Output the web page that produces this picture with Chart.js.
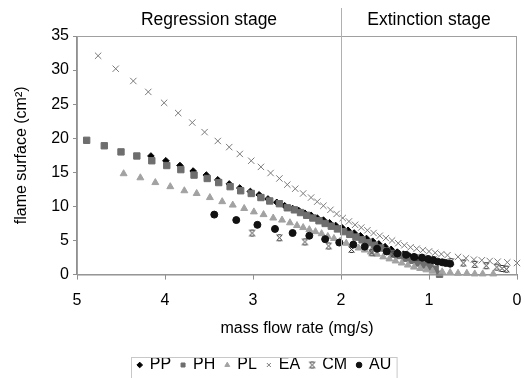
<!DOCTYPE html>
<html>
<head>
<meta charset="utf-8">
<script src="https://cdn.jsdelivr.net/npm/chart.js@4/dist/chart.umd.min.js"></script>
<style>
  html, body { margin: 0; padding: 0; background: #fff; }
  #wrap { width: 525px; height: 378px; }
</style>
</head>
<body>
<div id="wrap"><canvas id="chart_flame"></canvas></div>
<script>
// values (mass flow rate mg/s, flame surface cm2)
const ppX = [4.16, 3.99, 3.83, 3.68, 3.53, 3.40, 3.27, 3.15, 3.03, 2.93, 2.83, 2.73, 2.64, 2.55, 2.48,
    2.41, 2.34, 2.27, 2.20, 2.13, 2.06, 1.99, 1.92, 1.85, 1.78, 1.71, 1.64, 1.57, 1.50, 1.43, 1.36,
    1.29, 1.22, 1.15, 1.08, 1.01];
const ppY = [17.4, 16.7, 16.0, 15.2, 14.6, 13.9, 13.3, 12.7, 12.2, 11.7, 11.1, 10.6, 10.1, 9.7, 9.4,
    9.0, 8.7, 8.3, 8.0, 7.6, 7.2, 6.9, 6.5, 6.1, 5.7, 5.3, 4.9, 4.5, 4.1, 3.7, 3.3,
    3.0, 2.7, 2.4, 2.1, 1.7];

const phX = [4.89, 4.69, 4.50, 4.32, 4.15, 3.98, 3.82, 3.67, 3.52, 3.39, 3.26, 3.14, 3.02, 2.91, 2.81,
    2.70, 2.61, 2.53, 2.46, 2.39, 2.32, 2.25, 2.18, 2.11, 2.04, 1.97, 1.90, 1.83, 1.76, 1.69, 1.62,
    1.55, 1.48, 1.41, 1.34, 1.27, 1.20, 1.13, 1.06, 0.99, 0.93, 0.88];
const phY = [19.7, 18.9, 18.0, 17.4, 16.7, 16.0, 15.4, 14.6, 14.1, 13.5, 12.9, 12.3, 11.9, 11.3, 10.8,
    10.4, 9.8, 9.5, 9.1, 8.7, 8.3, 7.9, 7.5, 7.1, 6.7, 6.3, 5.9, 5.5, 5.1, 4.7, 4.3,
    3.9, 3.5, 3.1, 2.8, 2.4, 2.1, 1.7, 1.4, 1.1, 0.8, 0.05];

const plX = [4.47, 4.28, 4.11, 3.94, 3.78, 3.64, 3.49, 3.35, 3.23, 3.10, 2.99, 2.88, 2.77, 2.67, 2.58,
    2.50, 2.43, 2.36, 2.29, 2.22, 2.15, 2.08, 2.01, 1.94, 1.87, 1.80, 1.73, 1.66, 1.59, 1.52, 1.45,
    1.38, 1.31, 1.24, 1.17, 1.10, 1.03, 0.96, 0.85, 0.76, 0.67, 0.57, 0.48, 0.39, 0.27];
const plY = [14.8, 14.2, 13.5, 12.9, 12.3, 11.9, 11.3, 10.7, 10.2, 9.7, 9.2, 8.8, 8.3, 8.0, 7.6,
    7.2, 6.9, 6.6, 6.3, 6.0, 5.6, 5.3, 4.9, 4.6, 4.3, 3.9, 3.6, 3.3, 3.0, 2.6, 2.3,
    2.0, 1.7, 1.4, 1.1, 0.9, 0.7, 0.5, 0.4, 0.3, 0.2, 0.2, 0.1, 0.1, 0.1];

const eaX = [4.76, 4.56, 4.36, 4.19, 4.01, 3.85, 3.69, 3.55, 3.40, 3.27, 3.15, 3.02, 2.91, 2.80, 2.70,
    2.61, 2.52, 2.43, 2.34, 2.27, 2.20, 2.12, 2.05, 1.98, 1.91, 1.84, 1.77, 1.70, 1.63, 1.56, 1.49,
    1.42, 1.35, 1.28, 1.21, 1.14, 1.07, 1.00, 0.93, 0.86, 0.79, 0.67, 0.58, 0.49, 0.40, 0.31, 0.22,
    0.11, 0.0];
const eaY = [32.1, 30.2, 28.4, 26.8, 25.2, 23.7, 22.3, 20.9, 19.6, 18.7, 17.7, 16.7, 15.8, 14.9, 14.1,
    13.2, 12.6, 11.9, 11.3, 10.7, 10.1, 9.5, 8.9, 8.3, 7.8, 7.3, 6.9, 6.5, 6.1, 5.7, 5.35,
    5.0, 4.6, 4.3, 4.0, 3.8, 3.6, 3.4, 3.2, 3.0, 2.85, 2.6, 2.4, 2.2, 2.1, 2.0, 1.9,
    1.8, 1.7];

const cmX = [3.01, 2.70, 2.41, 2.14, 1.88, 1.65, 1.40, 1.15, 0.95, 0.75, 0.61, 0.48, 0.35, 0.23, 0.17, 0.12];
const cmY = [6.1, 5.4, 4.8, 4.2, 3.7, 3.2, 3.0, 2.5, 2.2, 1.9, 1.7, 1.5, 1.3, 1.1, 0.9, 0.8];

const auX = [3.44, 3.19, 2.95, 2.75, 2.55, 2.36, 2.18, 2.02, 1.86, 1.73, 1.59, 1.48, 1.36, 1.26, 1.17,
    1.08, 1.01, 0.95, 0.90, 0.85, 0.81, 0.76];
const auY = [8.8, 8.0, 7.3, 6.7, 6.1, 5.7, 5.2, 4.7, 4.4, 4.1, 3.8, 3.4, 3.1, 2.9, 2.6,
    2.5, 2.3, 2.1, 1.9, 1.8, 1.7, 1.6];

const xTicks = [5, 4, 3, 2, 1, 0];
const yTicks = [0, 5, 10, 15, 20, 25, 30, 35];
const stageSplit = 2;
const stageLabels = ['Regression stage', 'Extinction stage'];

const pts = (xs, ys) => xs.map((x, i) => ({ x: x, y: ys[i] }));

// excel style "star" marker: an x closed with short bars top and bottom
const makeStar = (size) => {
    const c = document.createElement('canvas');
    c.width = size; c.height = size;
    const g = c.getContext('2d');
    const a = 1.5, b = size - 1.5;
    g.strokeStyle = '#333';
    g.lineWidth = 1;
    g.beginPath();
    g.moveTo(a, a); g.lineTo(b, b);
    g.moveTo(b, a); g.lineTo(a, b);
    g.moveTo(a + 1, a); g.lineTo(b - 1, a);
    g.moveTo(a + 1, b); g.lineTo(b - 1, b);
    g.stroke();
    return c;
};
const starMark = makeStar(9);

const font = 'Liberation Sans, Arial, sans-serif';
const legendShift = 5;

const stagePlugin = {
    id: 'stages',
    afterLayout(chart) {
        // push the legend a bit lower, like the original
        chart.legend.top += legendShift;
        chart.legend.bottom += legendShift;
    },
    afterDatasetsDraw(chart) {
        const { ctx, chartArea, scales } = chart;
        const xs = scales.x.getPixelForValue(stageSplit);
        ctx.save();
        // plot frame
        ctx.strokeStyle = '#a0a0a0';
        ctx.lineWidth = 1;
        ctx.strokeRect(chartArea.left + 0.5, chartArea.top + 0.5,
            chartArea.right - chartArea.left - 1, chartArea.bottom - chartArea.top);
        // short x tick marks (the axis ones are hidden, they only make room)
        ctx.strokeStyle = '#909090';
        ctx.beginPath();
        xTicks.forEach(v => {
            const px = Math.round(scales.x.getPixelForValue(v)) + 0.5;
            ctx.moveTo(px, chartArea.bottom);
            ctx.lineTo(px, chartArea.bottom + 5);
        });
        ctx.stroke();
        // divider
        ctx.strokeStyle = '#b0b0b0';
        ctx.beginPath();
        ctx.moveTo(Math.round(xs) + 0.5, 8);
        ctx.lineTo(Math.round(xs) + 0.5, chartArea.bottom);
        ctx.stroke();
        ctx.fillStyle = '#000';
        ctx.font = '17.5px ' + font;
        ctx.textAlign = 'center';
        ctx.textBaseline = 'middle';
        ctx.fillText(stageLabels[0], scales.x.getPixelForValue((5 + stageSplit) / 2), 20);
        ctx.fillText(stageLabels[1], scales.x.getPixelForValue(stageSplit / 2), 20);
        ctx.restore();
    },
    afterDraw(chart) {
        const boxes = chart.legend.legendHitBoxes;
        if (!boxes || !boxes.length) return;
        const l = Math.min(...boxes.map(b => b.left));
        const r = Math.max(...boxes.map(b => b.left + b.width));
        const t = Math.min(...boxes.map(b => b.top)) + legendShift;
        const b2 = Math.max(...boxes.map(b => b.top + b.height)) + legendShift;
        const ctx = chart.ctx;
        ctx.save();
        ctx.strokeStyle = '#c8c8c8';
        ctx.lineWidth = 1;
        ctx.strokeRect(Math.round(l) - 6.5, Math.round(t) - 4.5, r - l + 12, b2 - t + 9);
        ctx.restore();
    }
};

// order: later series drawn on top, like the spreadsheet did
const data = {
    datasets: [
        { label: 'PP', data: pts(ppX, ppY), pointStyle: 'rectRot', radius: 3.3, order: 6,
          backgroundColor: '#000', borderColor: '#000', borderWidth: 1 },
        { label: 'PH', data: pts(phX, phY), pointStyle: 'rect', radius: 4.5, order: 5,
          backgroundColor: '#6e6e6e', borderColor: '#6e6e6e', borderWidth: 1 },
        { label: 'PL', data: pts(plX, plY), pointStyle: 'triangle', radius: 4, order: 4,
          backgroundColor: '#a2a2a2', borderColor: '#a2a2a2', borderWidth: 1 },
        { label: 'EA', data: pts(eaX, eaY), pointStyle: 'crossRot', radius: 4.5, order: 3,
          backgroundColor: '#7a7a7a', borderColor: '#7a7a7a', borderWidth: 1 },
        { label: 'CM', data: pts(cmX, cmY), pointStyle: starMark, radius: 4.5, order: 2,
          backgroundColor: '#333', borderColor: '#333', borderWidth: 1 },
        { label: 'AU', data: pts(auX, auY), pointStyle: 'circle', radius: 3.5, order: 1,
          backgroundColor: '#111', borderColor: '#111', borderWidth: 1 },
    ]
};

const options = {
    responsive: true,
    maintainAspectRatio: false,
    animation: false,
    layout: { padding: { top: 36, right: 8, left: 12, bottom: 0 } },
    plugins: {
        legend: {
            position: 'bottom',
            labels: {
                usePointStyle: true,
                boxWidth: 4,
                boxHeight: 4,
                padding: 10,
                color: '#000',
                font: { family: font, size: 16 },
                sort: (a, b) => a.datasetIndex - b.datasetIndex,
            }
        },
        tooltip: { enabled: false },
    },
    datasets: { scatter: { clip: false } },
    scales: {
        x: {
            type: 'linear',
            reverse: true,
            min: 0,
            max: 5,
            afterBuildTicks: (axis) => { axis.ticks = xTicks.map(v => ({ value: v })); },
            ticks: { color: '#000', font: { family: font, size: 16 }, padding: 2 },
            grid: { drawOnChartArea: false, drawTicks: true, tickLength: 14, tickColor: 'rgba(0,0,0,0)' },
            border: { color: '#909090' },
            title: { display: true, text: 'mass flow rate (mg/s)', color: '#000',
                     font: { family: font, size: 16 }, padding: { top: 7, bottom: 4 } }
        },
        y: {
            min: 0,
            max: 35,
            afterBuildTicks: (axis) => { axis.ticks = yTicks.map(v => ({ value: v })); },
            ticks: { color: '#000', font: { family: font, size: 16 }, padding: 4 },
            grid: { drawOnChartArea: false, drawTicks: true, tickLength: 4, color: '#909090' },
            border: { color: '#909090' },
            title: { display: true, text: 'flame surface (cm²)', color: '#000',
                     font: { family: font, size: 16 }, padding: { top: 0, bottom: 16 } }
        }
    }
};

const chart = new Chart(document.getElementById('chart_flame'), {
    type: 'scatter',
    data: data,
    options: options,
    plugins: [stagePlugin],
});
</script>
</body>
</html>
